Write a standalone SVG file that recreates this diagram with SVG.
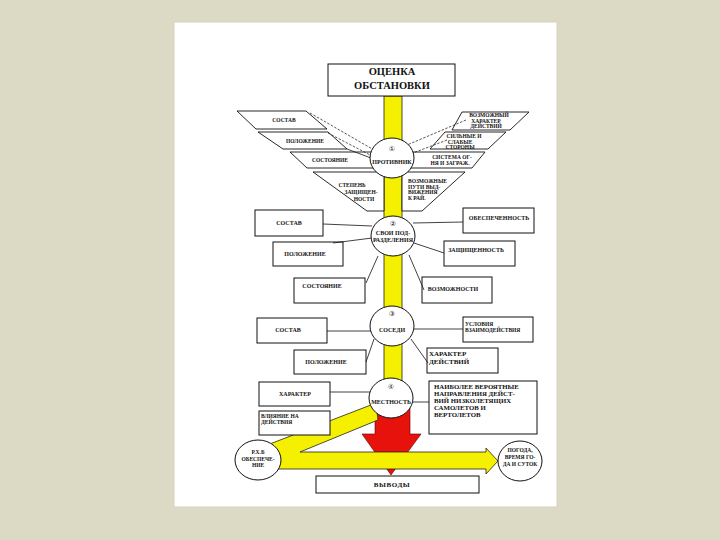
<svg xmlns="http://www.w3.org/2000/svg" width="720" height="540" viewBox="0 0 720 540">
<style>
.t{font-family:"Liberation Serif","DejaVu Serif",serif;font-weight:bold;fill:#111;text-anchor:middle}
.s{font-size:5.5px}
.m{font-size:6px}
.l{text-anchor:start}
.num{font-family:"DejaVu Sans","Noto Sans CJK SC",sans-serif;font-size:7px;fill:#111;text-anchor:middle}
.box{fill:#fff;stroke:#111;stroke-width:1}
.band{fill:#fff;stroke:#111;stroke-width:0.9}
.circ{fill:#fff;stroke:#111;stroke-width:1}
.ln{stroke:#111;stroke-width:0.8;fill:none}
.dash{stroke:#111;stroke-width:0.7;stroke-dasharray:2.5 1.5;fill:none}
.yel{fill:#f4f000;stroke:#222;stroke-width:0.8}
</style>
<rect x="0" y="0" width="720" height="540" fill="#dcd9c4"/>
<rect x="174" y="22" width="383" height="485" fill="#ffffff" stroke="#d6d3bd" stroke-width="1"/>

<g id="flow">
<rect class="yel" x="384" y="96" width="18" height="292"/>
<path id="red-arrow" d="M375 408 L410 408 L410 434 L421 434 L391 475 L362 434 L375 434 Z" fill="#e8120c" stroke="#5a0000" stroke-width="0.6"/>
<path id="yellow-arrow" class="yel" d="M376 403 L262 447 L262 469 L486 469 L486 474 L498 461 L486 448 L486 452 L300 452 L378 420 Z"/>
</g>

<g id="title">
<rect class="box" x="328" y="64" width="127" height="32" stroke-width="1.4"/>
<text class="t" x="392" y="75" font-size="10.5">ОЦЕНКА</text>
<text class="t" x="392" y="89" font-size="10.5">ОБСТАНОВКИ</text>
</g>

<g id="enemy-bands">
<g id="b-sostav"><polygon class="band" points="237,111 306,111 327,129 256,129"/><text class="t s" x="284" y="122">СОСТАВ</text></g>
<g id="b-polozhenie"><polygon class="band" points="258,132 328,132 347,149 283,149"/><text class="t s" x="305" y="143">ПОЛОЖЕНИЕ</text></g>
<g id="b-sostoyanie"><polygon class="band" points="290,152 372,152 378,168 307,168"/><text class="t s" x="330" y="162">СОСТОЯНИЕ</text></g>
<g id="b-stepen"><polygon class="band" points="313,172 384,172 384,211 367,211"/>
<text class="t s" x="352" y="187">СТЕПЕНЬ</text><text class="t s" x="361" y="194">ЗАЩИЩЕН-</text><text class="t s" x="364" y="201">НОСТИ</text></g>
<g id="r-harakter"><polygon class="band" points="462,112 529,112 510,130 452,130"/>
<text class="t s" x="489" y="117">ВОЗМОЖНЫЙ</text><text class="t s" x="486" y="122.5">ХАРАКТЕР</text><text class="t s" x="486" y="128">ДЕЙСТВИЙ</text></g>
<g id="r-silnye"><polygon class="band" points="445,132 506,132 488,149 430,149"/>
<text class="t s" x="464" y="138">СИЛЬНЫЕ И</text><text class="t s" x="460" y="143.5">СЛАБЫЕ</text><text class="t s" x="460" y="148.5">СТОРОНЫ</text></g>
<g id="r-sistema"><polygon class="band" points="410,152 485,152 472,168 404,168"/>
<text class="t s" x="452" y="159">СИСТЕМА ОГ-</text><text class="t s" x="450" y="165">НЯ И ЗАГРАЖ.</text></g>
<g id="r-puti"><polygon class="band" points="402,172 465,172 422,211 402,211"/>
<text class="t s l" x="408" y="183">ВОЗМОЖНЫЕ</text><text class="t s l" x="408" y="188.5">ПУТИ ВЫД-</text><text class="t s l" x="408" y="194">ВИЖЕНИЯ</text><text class="t s l" x="408" y="199.5">К РАЙ.</text></g>
</g>

<g id="own-boxes">
<g id="o-sostav"><rect class="box" x="255" y="210" width="68" height="26"/><text class="t m" x="289" y="225">СОСТАВ</text></g>
<g id="o-polozhenie"><rect class="box" x="273" y="242" width="70" height="24"/><text class="t m" x="305" y="256">ПОЛОЖЕНИЕ</text></g>
<g id="o-sostoyanie"><rect class="box" x="294" y="278" width="71" height="25"/><text class="t m" x="322" y="288">СОСТОЯНИЕ</text></g>
<g id="o-obespech"><rect class="box" x="463" y="208" width="71" height="25"/><text class="t m" x="499" y="220">ОБЕСПЕЧЕННОСТЬ</text></g>
<g id="o-zashch"><rect class="box" x="444" y="241" width="71" height="25"/><text class="t m" x="476" y="252">ЗАЩИЩЕННОСТЬ</text></g>
<g id="o-vozm"><rect class="box" x="422" y="277" width="70" height="26"/><text class="t m" x="453" y="291">ВОЗМОЖНОСТИ</text></g>
</g>

<g id="neighbour-boxes">
<g id="n-sostav"><rect class="box" x="257" y="318" width="70" height="25"/><text class="t m" x="288" y="332">СОСТАВ</text></g>
<g id="n-polozhenie"><rect class="box" x="294" y="350" width="72" height="24"/><text class="t m" x="326" y="364">ПОЛОЖЕНИЕ</text></g>
<g id="n-usloviya"><rect class="box" x="463" y="317" width="70" height="25"/><text class="t s l" x="465" y="326">УСЛОВИЯ</text><text class="t s l" x="465" y="332">ВЗАИМОДЕЙСТВИЯ</text></g>
<g id="n-harakter"><rect class="box" x="427" y="348" width="71" height="25"/><text class="t l" font-size="7" x="429" y="356">ХАРАКТЕР</text><text class="t l" font-size="7" x="429" y="364">ДЕЙСТВИЙ</text></g>
</g>

<g id="terrain-boxes">
<g id="m-harakter"><rect class="box" x="259" y="382" width="71" height="24"/><text class="t m" x="295" y="396">ХАРАКТЕР</text></g>
<g id="m-vliyanie"><rect class="box" x="259" y="411" width="71" height="24"/><text class="t s l" x="261" y="418">ВЛИЯНИЕ НА</text><text class="t s l" x="261" y="424">ДЕЙСТВИЯ</text></g>
<g id="m-napr"><rect class="box" x="429" y="381" width="108" height="53"/>
<text class="t l" font-size="6.8" x="434" y="389">НАИБОЛЕЕ ВЕРОЯТНЫЕ</text>
<text class="t l" font-size="6.8" x="434" y="396">НАПРАВЛЕНИЯ ДЕЙСТ-</text>
<text class="t l" font-size="6.8" x="434" y="403">ВИЙ НИЗКОЛЕТЯЩИХ</text>
<text class="t l" font-size="6.8" x="434" y="410">САМОЛЕТОВ И</text>
<text class="t l" font-size="6.8" x="434" y="417">ВЕРТОЛЕТОВ</text></g>
</g>

<g id="connectors">
<path class="dash" d="M310 113 L374 150"/>
<path class="dash" d="M328 133 L372 156"/>
<path class="ln" d="M347 149 L371 158"/>
<path class="dash" d="M466 120 L407 145"/>
<path class="dash" d="M447 140 L413 153"/>
<path class="ln" d="M323 224 L372 226"/>
<path class="ln" d="M333 243 L372 238"/>
<path class="ln" d="M366 283 L378 256"/>
<path class="ln" d="M463 222 L413 223"/>
<path class="ln" d="M444 253 L414 243"/>
<path class="ln" d="M424 290 L409 255"/>
<path class="ln" d="M327 331 L371 331"/>
<path class="ln" d="M366 362 L374 339"/>
<path class="ln" d="M463 329 L414 329"/>
<path class="ln" d="M428 363 L411 339"/>
<path class="ln" d="M330 392 L370 392"/>
<path class="ln" d="M413 402 L429 402"/>
</g>

<g id="c-protivnik"><ellipse class="circ" cx="392" cy="158" rx="22" ry="20"/><text class="num" x="392" y="151">①</text><text class="t m" x="392" y="164">ПРОТИВНИК</text></g>
<g id="c-svoi"><ellipse class="circ" cx="393" cy="236" rx="22" ry="20"/><text class="num" x="393" y="226">②</text><text class="t m" x="393" y="235">СВОИ ПОД-</text><text class="t m" x="393" y="242">РАЗДЕЛЕНИЯ</text></g>
<g id="c-sosedi"><ellipse class="circ" cx="392" cy="326" rx="22" ry="20"/><text class="num" x="392" y="316">③</text><text class="t m" x="392" y="332">СОСЕДИ</text></g>
<g id="c-mestnost"><ellipse class="circ" cx="391" cy="398" rx="22" ry="20"/><text class="num" x="391" y="389">④</text><text class="t m" x="391" y="404">МЕСТНОСТЬ</text></g>
<g id="c-rhb"><ellipse class="circ" cx="258" cy="460" rx="23" ry="20"/><text class="t s" x="258" y="454">Р.Х.Б</text><text class="t s" x="258" y="461">ОБЕСПЕЧЕ-</text><text class="t s" x="258" y="467">НИЕ</text></g>
<g id="c-pogoda"><ellipse class="circ" cx="520" cy="461" rx="22" ry="20"/><text class="t s" x="520" y="452">ПОГОДА,</text><text class="t s" x="520" y="459">ВРЕМЯ ГО-</text><text class="t s" x="520" y="466">ДА И СУТОК</text></g>

<g id="vyvody"><rect class="box" x="316" y="476" width="163" height="17"/><text class="t" font-size="7" x="392" y="487" letter-spacing="0.6">ВЫВОДЫ</text></g>
</svg>
